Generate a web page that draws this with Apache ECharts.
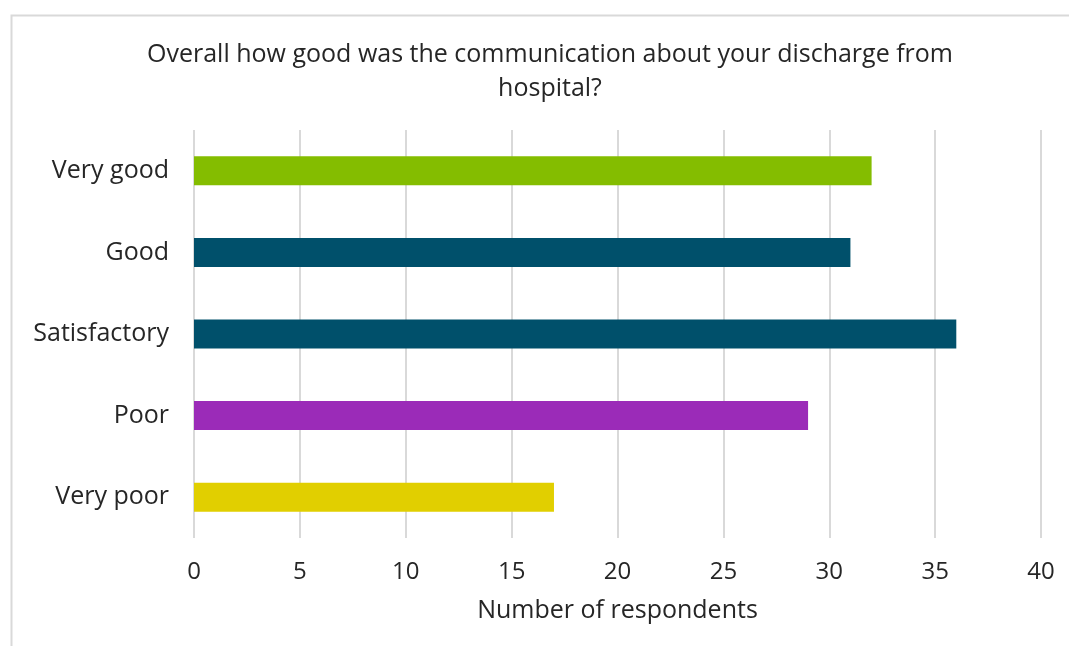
<!DOCTYPE html>
<html>
<head>
<meta charset="utf-8">
<script src="https://cdn.jsdelivr.net/npm/echarts@6/dist/echarts.min.js"></script>
<style>
  html, body { margin: 0; padding: 0; background: #ffffff; }
  #chart { width: 1069px; height: 646px; }
</style>
</head>
<body>
<div id="chart"></div>
<script>
// Survey responses: communication about discharge
const categories = ['Very good', 'Good', 'Satisfactory', 'Poor', 'Very poor'];
const respondents = [32, 31, 36, 29, 17];
const barColors = ['#84bd00', '#00506b', '#00506b', '#9b2bb8', '#e1cf00'];
const xTicks = [0, 5, 10, 15, 20, 25, 30, 35, 40];

const FONT = '"Open Sans", sans-serif';
const TEXT = '#262626';

const chart = echarts.init(document.getElementById('chart'), null, { renderer: 'canvas' });

chart.setOption({
  backgroundColor: '#ffffff',
  animation: false,
  graphic: [{
    type: 'rect',
    shape: { x: 11.5, y: 15.5, width: 1080, height: 660 },
    style: { fill: 'none', stroke: '#d9d9d9', lineWidth: 2 },
    silent: true
  }],
  title: {
    text: 'Overall how good was the communication about your discharge from\nhospital?',
    left: 545,
    top: 33,
    textAlign: 'center',
    textStyle: {
      fontFamily: FONT,
      fontSize: 25,
      fontWeight: 'normal',
      color: TEXT,
      lineHeight: 34,
      align: 'center'
    }
  },
  grid: { left: 194, right: 28, top: 130, bottom: 108, containLabel: false },
  xAxis: {
    type: 'value',
    min: xTicks[0],
    max: xTicks[xTicks.length - 1],
    interval: 5,
    name: 'Number of respondents',
    nameLocation: 'middle',
    nameGap: 60,
    nameTextStyle: { fontFamily: FONT, fontSize: 25, color: TEXT },
    axisLine: { show: false },
    axisTick: { show: false },
    axisLabel: { fontFamily: FONT, fontSize: 24, color: TEXT, margin: 22 },
    splitLine: { show: true, lineStyle: { color: '#d9d9d9', width: 2 } }
  },
  yAxis: {
    type: 'category',
    data: categories,
    inverse: true,
    axisLine: { show: false },
    axisTick: { show: false },
    axisLabel: { fontFamily: FONT, fontSize: 25, color: TEXT, margin: 25 }
  },
  series: [{
    type: 'bar',
    data: respondents.map((v, i) => ({ value: v, itemStyle: { color: barColors[i] } })),
    barWidth: 29,
    silent: true
  }]
});
</script>
</body>
</html>
